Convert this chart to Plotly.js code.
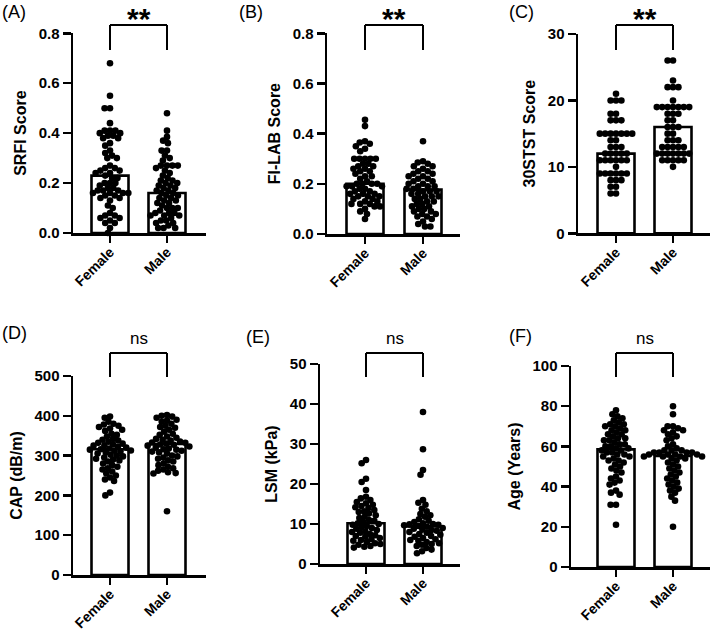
<!DOCTYPE html>
<html><head><meta charset="utf-8">
<script src="https://cdn.plot.ly/plotly-3.0.1.min.js"></script>
<style>html,body{margin:0;padding:0;background:#fff}</style>
</head><body><div id="chart" style="width:712px;height:633px"></div>
<script>
// ---------------- data ----------------
const groups = ['Female', 'Male'];

const srfiFemale = [0.68,0.55,0.50,0.50,0.44,0.41,0.41,0.40,0.40,0.41,0.39,0.38,0.38,0.39,0.36,0.35,0.33,0.32,0.31,0.30,0.30,0.27,0.26,0.26,0.25,0.25,0.24,0.24,0.22,0.22,0.23,0.20,0.20,0.19,0.20,0.18,0.17,0.17,0.17,0.16,0.18,0.16,0.16,0.15,0.16,0.15,0.14,0.13,0.14,0.11,0.10,0.08,0.07,0.07,0.06,0.06,0.05,0.04,0.04,0.02,0.00];
const srfiMale = [0.48,0.41,0.385,0.37,0.36,0.33,0.33,0.31,0.30,0.29,0.27,0.27,0.27,0.27,0.26,0.25,0.24,0.23,0.22,0.21,0.21,0.20,0.20,0.19,0.19,0.18,0.18,0.17,0.17,0.16,0.16,0.15,0.15,0.14,0.14,0.13,0.13,0.12,0.12,0.11,0.10,0.10,0.10,0.09,0.08,0.08,0.08,0.07,0.07,0.07,0.06,0.05,0.05,0.04,0.04,0.03,0.02,0.02,0.02];
const srfiMeans = [0.23, 0.16];

const filabFemale = [0.455,0.43,0.37,0.365,0.36,0.35,0.34,0.33,0.30,0.30,0.30,0.30,0.30,0.28,0.28,0.27,0.27,0.26,0.26,0.25,0.25,0.24,0.23,0.23,0.22,0.21,0.20,0.20,0.20,0.20,0.19,0.19,0.19,0.18,0.18,0.17,0.17,0.16,0.16,0.16,0.15,0.15,0.15,0.14,0.14,0.13,0.13,0.12,0.12,0.12,0.11,0.11,0.10,0.09,0.08,0.06];
const filabMale = [0.37,0.29,0.285,0.28,0.27,0.27,0.26,0.25,0.25,0.24,0.24,0.23,0.23,0.22,0.22,0.21,0.21,0.20,0.20,0.19,0.19,0.19,0.18,0.18,0.17,0.17,0.17,0.16,0.16,0.15,0.15,0.15,0.14,0.14,0.13,0.13,0.12,0.12,0.11,0.11,0.10,0.10,0.09,0.09,0.08,0.08,0.07,0.07,0.06,0.05,0.04,0.03,0.03];
const filabMeans = [0.20, 0.177];

const ststFemale = [21,20,20,20,18,18,17,17,17,15,15,15,15,15,15,15,14,14,13,13,13,12,12,12,12,12,11,11,11,11,11,11,10,9,9,9,9,9,9,8,8,8,7,7,6,6];
const ststMale = [26,26,23,22,22,22,20,19,19,19,19,19,19,19,18,18,18,17,17,16,16,16,15,15,14,14,14,13,13,13,13,13,12,12,12,12,12,12,12,11,11,11,11,11,10];
const ststMeans = [12, 16];

const capFemale = [398,395,385,380,378,375,372,368,365,362,355,352,348,342,340,338,335,332,330,328,326,325,322,320,318,316,315,313,312,310,308,305,302,300,298,295,292,290,288,285,280,276,272,268,265,260,255,250,245,240,236,207,200];
const capMale = [402,400,398,395,390,388,385,380,375,372,370,365,360,355,352,348,345,342,340,338,335,333,332,330,328,327,325,323,320,318,316,315,312,310,308,305,300,298,295,292,288,285,280,276,272,268,265,262,258,256,255,160];
const capMeans = [316, 329];

const lsmFemale = [26,25.2,21.3,20.5,18.5,16.8,16.4,16.0,15.5,15.2,14.8,14.5,14.2,14.0,13.5,13.2,13.0,12.6,12.2,11.8,11.5,11.0,10.8,10.5,10.2,10.0,9.8,9.5,9.2,9.0,8.8,8.5,8.2,8.0,7.8,7.5,7.2,7.0,6.8,6.5,6.2,6.0,5.8,5.5,5.2,5.0,4.8,4.5,4.3,4.1];
const lsmMale = [38,28.7,23.5,22.3,16.0,15.3,14.8,13.8,13.2,12.5,12.2,11.8,11.2,10.8,10.5,10.2,10.0,9.9,9.8,9.7,9.5,9.3,9.0,8.8,8.6,8.5,8.3,8.0,7.8,7.5,7.3,7.0,6.8,6.5,6.2,6.0,5.8,5.5,5.2,5.0,4.8,4.5,4.0,3.6,3.2,2.7];
const lsmMeans = [10.2, 9.4];

const ageFemale = [78,76,75,74,73,72,71,71,70,70,69,68,68,67,66,66,65,64,64,63,63,62,61,61,60,60,59,59,58,58,57,57,56,56,55,55,54,53,53,52,51,50,49,48,47,45,44,43,42,41,38,37,36,31,31,21];
const ageMale = [80,76,70,70,69,68,68,67,66,65,64,63,61,60,59,58,58,58,57,57,57,57,56,56,56,56,55,55,55,55,54,54,53,52,51,50,49,48,47,46,45,44,43,42,41,40,39,38,37,35,33,20];
const ageMeans = [58.5, 55.2];

const panelLetters = ['(A)','(B)','(C)','(D)','(E)','(F)'];
const yTitles = ['SRFI Score','FI-LAB Score','30STST Score','CAP (dB/m)','LSM (kPa)','Age (Years)'];
const sigLabels = ['**','**','**','ns','ns','ns'];
const yRanges = [[0,0.8],[0,0.8],[0,30],[0,500],[0,50],[0,100]];
const yDticks = [0.2,0.2,10,100,10,20];

// ---------------- layout geometry (pixels) ----------------
const W = 712, H = 633;
const FONT = 'Liberation Sans, Arial, sans-serif';
const geo = [
  {x0:73,  x1:206, fx:110, mx:167, yt:33.3, yb:233,   lx:0,   ly:0,   bt:25,  bl:50},
  {x0:327, x1:460, fx:365, mx:423, yt:33.3, yb:234,   lx:237, ly:0,   bt:25,  bl:50},
  {x0:578, x1:710, fx:616, mx:673, yt:34,   yb:233.3, lx:507, ly:0,   bt:25,  bl:50},
  {x0:73,  x1:206, fx:110, mx:167, yt:376,  yb:575,   lx:0,   ly:321, bt:353, bl:377},
  {x0:320, x1:460, fx:366, mx:423, yt:364,  yb:564,   lx:244, ly:325, bt:353, bl:377},
  {x0:571, x1:710, fx:616, mx:673, yt:366,  yb:567,   lx:507, ly:324, bt:353, bl:377}
];
const sigTop = [1,1,1,328,328,328];

const dataSets = [
  [srfiFemale, srfiMale, srfiMeans],
  [filabFemale, filabMale, filabMeans],
  [ststFemale, ststMale, ststMeans],
  [capFemale, capMale, capMeans],
  [lsmFemale, lsmMale, lsmMeans],
  [ageFemale, ageMale, ageMeans]
];

// beeswarm offsets (in pixels) for a list of pixel y positions
function swarm(pys, d) {
  const idx = pys.map((v,i)=>i).sort((a,b)=>pys[a]-pys[b]);
  const placed = [];
  const out = new Array(pys.length).fill(0);
  idx.forEach(i => {
    const y = pys[i];
    const near = placed.filter(p => Math.abs(p.y - y) < d);
    const cands = [0];
    near.forEach(p => {
      const dx = Math.sqrt(d*d - (p.y-y)*(p.y-y));
      cands.push(p.x + dx, p.x - dx);
    });
    cands.sort((a,b)=>Math.abs(a)-Math.abs(b) || a-b);
    let chosen = 0;
    for (const c of cands) {
      if (near.every(p => (p.x-c)*(p.x-c) + (p.y-y)*(p.y-y) >= d*d - 1e-6)) { chosen = c; break; }
    }
    placed.push({x:chosen, y:y});
    out[i] = chosen;
  });
  return out;
}

const traces = [];
const layout = {
  width: W, height: H,
  margin: {l:0, r:0, t:0, b:0},
  paper_bgcolor: 'white', plot_bgcolor: 'rgba(0,0,0,0)',
  showlegend: false,
  font: {family: FONT, color: 'black'},
  annotations: [], shapes: []
};

geo.forEach((g, k) => {
  const n = k + 1;
  const xs = n === 1 ? 'x' : 'x' + n, ys = n === 1 ? 'y' : 'y' + n;
  const xName = n === 1 ? 'xaxis' : 'xaxis' + n, yName = n === 1 ? 'yaxis' : 'yaxis' + n;
  const unit = g.mx - g.fx;
  const r0 = -(g.fx - g.x0) / unit, r1 = (g.x1 - g.fx) / unit;
  const [fem, mal, means] = dataSets[k];
  const yr = yRanges[k];
  const pxPerY = (g.yb - g.yt) / (yr[1] - yr[0]);

  traces.push({
    type: 'bar', x: [0, 1], y: means, width: 37 / unit,
    marker: {color: 'white', line: {color: 'black', width: 2.6}},
    xaxis: xs, yaxis: ys, hoverinfo: 'skip'
  });
  [fem, mal].forEach((vals, gi) => {
    const off = swarm(vals.map(v => -v * pxPerY), 5.4);
    traces.push({
      type: 'scatter', mode: 'markers',
      x: off.map(o => gi + o / unit), y: vals,
      marker: {color: 'black', size: 6.6, line: {width: 0}},
      xaxis: xs, yaxis: ys, cliponaxis: false
    });
  });

  layout[xName] = {
    domain: [g.x0 / W, g.x1 / W], range: [r0, r1], anchor: ys,
    tickvals: [0, 1], ticktext: groups, tickangle: -45,
    showline: true, linecolor: 'black', linewidth: 2.5,
    ticks: 'outside', ticklen: 7, tickwidth: 2.5, tickcolor: 'black',
    ticklabelstandoff: -4,
    showgrid: false, zeroline: false, fixedrange: true,
    tickfont: {family: FONT, size: 14, weight: 'bold', color: 'black'}
  };
  layout[yName] = {
    domain: [1 - g.yb / H, 1 - g.yt / H], range: yr, anchor: xs,
    dtick: yDticks[k], tick0: 0, tickformat: k < 2 ? '.1f' : 'd',
    showline: true, linecolor: 'black', linewidth: 2.5,
    ticks: 'outside', ticklen: 8, tickwidth: 2.5, tickcolor: 'black',
    showgrid: false, zeroline: false, fixedrange: true,
    tickfont: {family: FONT, size: 15, weight: 'bold', color: 'black'},
    title: {text: yTitles[k], font: {family: FONT, size: 16, weight: 'bold', color: 'black'}, standoff: 8}
  };

  // panel letter
  layout.annotations.push({
    text: panelLetters[k], xref: 'paper', yref: 'paper',
    x: g.lx / W, y: 1 - g.ly / H, xanchor: 'left', yanchor: 'top',
    showarrow: false, font: {family: FONT, size: 18, color: 'black'}
  });
  // significance label
  const isStar = sigLabels[k] === '**';
  layout.annotations.push({
    text: sigLabels[k], xref: xs, yref: 'paper', x: 0.5, y: 1 - sigTop[k] / H,
    xanchor: 'center', yanchor: 'top', showarrow: false, borderpad: 0,
    font: isStar ? {family: FONT, size: 30, weight: 'bold', color: 'black'}
                 : {family: FONT, size: 17, color: 'black'}
  });
  // bracket
  const f = v => (v - r0) / (r1 - r0);
  const ln = {color: 'black', width: 2};
  const xd = xs + ' domain';
  layout.shapes.push(
    {type: 'line', xref: xd, yref: 'paper', x0: f(0), x1: f(1), y0: 1 - g.bt / H, y1: 1 - g.bt / H, line: ln},
    {type: 'line', xref: xd, yref: 'paper', x0: f(0), x1: f(0), y0: 1 - g.bt / H, y1: 1 - g.bl / H, line: ln},
    {type: 'line', xref: xd, yref: 'paper', x0: f(1), x1: f(1), y0: 1 - g.bt / H, y1: 1 - g.bl / H, line: ln}
  );
});

Plotly.newPlot('chart', traces, layout, {staticPlot: true, displayModeBar: false});
</script>
</body></html>
